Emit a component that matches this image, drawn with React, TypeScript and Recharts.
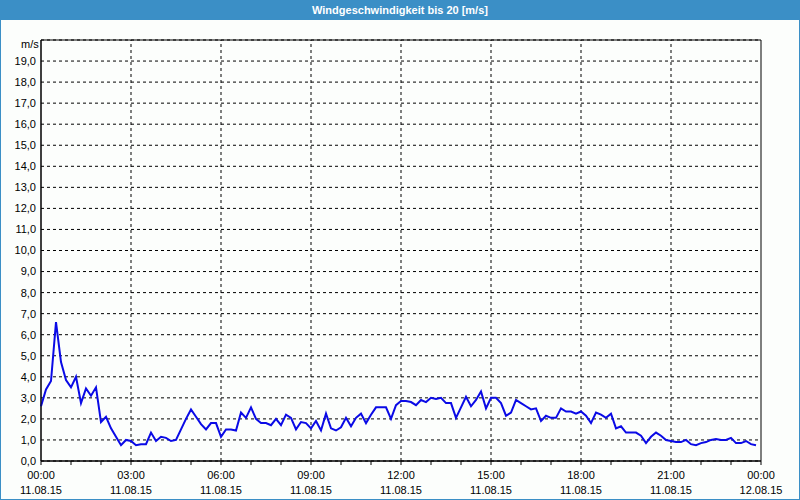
import React from 'react';
import {
    LineChart,
    Line,
    XAxis,
    YAxis,
    CartesianGrid,
    ReferenceLine,
    ReferenceArea,
} from 'recharts';

// Messwerte Windgeschwindigkeit (m/s), alle 10 Minuten ab 00:00
const stepMinutes = 10;
const windSpeed = [
    2.6, 3.4, 3.8, 6.6, 4.7, 3.85, 3.5, 4.0, 2.75, 3.45,
    3.1, 3.5, 1.85, 2.1, 1.55, 1.15, 0.75, 1.0, 0.95, 0.75,
    0.8, 0.8, 1.35, 0.95, 1.15, 1.1, 0.95, 1.0, 1.5, 2.0,
    2.45, 2.1, 1.75, 1.5, 1.8, 1.8, 1.15, 1.5, 1.5, 1.45,
    2.3, 2.05, 2.55, 2.0, 1.8, 1.8, 1.7, 2.0, 1.7, 2.2,
    2.05, 1.5, 1.85, 1.8, 1.55, 1.9, 1.45, 2.25, 1.55, 1.45,
    1.6, 2.05, 1.65, 2.05, 2.25, 1.8, 2.2, 2.55, 2.55, 2.55,
    2.0, 2.65, 2.85, 2.85, 2.8, 2.65, 2.9, 2.8, 3.0, 2.95,
    3.0, 2.75, 2.75, 2.05, 2.55, 3.05, 2.6, 2.9, 3.3, 2.5,
    3.0, 3.0, 2.75, 2.15, 2.3, 2.9, 2.75, 2.6, 2.45, 2.5,
    1.9, 2.15, 2.05, 2.05, 2.5, 2.35, 2.35, 2.25, 2.35, 2.15,
    1.8, 2.3, 2.2, 2.05, 2.25, 1.55, 1.65, 1.35, 1.35, 1.35,
    1.2, 0.85, 1.15, 1.35, 1.2, 1.0, 0.95, 0.9, 0.9, 1.0,
    0.8, 0.75, 0.85, 0.9, 1.0, 1.05, 1.0, 1.0, 1.1, 0.85,
    0.85, 0.95, 0.8, 0.75,
];

// Achsen
const hourTicks = [
    0, 60, 120, 180, 240, 300, 360, 420, 480, 540, 600, 660, 720,
    780, 840, 900, 960, 1020, 1080, 1140, 1200, 1260, 1320, 1380, 1440,
];
const gridMinutes = [180, 360, 540, 720, 900, 1080, 1260];
const timeLabels = ['00:00', '03:00', '06:00', '09:00', '12:00', '15:00', '18:00', '21:00', '00:00'];
const dateLabels = ['11.08.15', '11.08.15', '11.08.15', '11.08.15', '11.08.15', '11.08.15', '11.08.15', '11.08.15', '12.08.15'];
const yTicks = [0, 1, 2, 3, 4, 5, 6, 7, 8, 9, 10, 11, 12, 13, 14, 15, 16, 17, 18, 19];

const data = windSpeed.map((v, i) => ({ t: i * stepMinutes, v }));

const font = '"Liberation Sans", Arial, sans-serif';
const blue = '#3b8fc6';
const axisY = 461;

const TimeTick = (props: any) => {
    const { x, payload } = props;
    const m = payload.value;
    const idx = m % 180 === 0 ? m / 180 : -1;
    return (
        <g>
            <line x1={x} y1={axisY} x2={x} y2={axisY + 4} stroke="#000" />
            {idx >= 0 && (
                <>
                    <text x={x} y={axisY + 18} textAnchor="middle" fontSize={11} fontFamily={font} fill="#000">
                        {timeLabels[idx]}
                    </text>
                    <text x={x} y={axisY + 33} textAnchor="middle" fontSize={11} fontFamily={font} fill="#000">
                        {dateLabels[idx]}
                    </text>
                </>
            )}
        </g>
    );
};

export default function App() {
    return (
        <div style={{ position: 'absolute', left: 0, top: 0, width: 800, height: 500, background: '#fcfefc', fontFamily: font }}>
            <div style={{ position: 'absolute', left: 0, top: 0, width: 800, height: 500, boxSizing: 'border-box', border: `1px solid ${blue}` }} />
            <div
                style={{
                    position: 'absolute', left: 0, top: 0, width: 800, height: 20, background: blue,
                    color: '#fff', fontWeight: 'bold', fontSize: 11, lineHeight: '20px', textAlign: 'center',
                }}
            >
                Windgeschwindigkeit bis 20 [m/s]
            </div>
            <div style={{ position: 'absolute', left: 21, top: 38, fontSize: 11, color: '#000' }}>m/s</div>
            <div style={{ position: 'absolute', left: 0, top: 0 }}>
                <LineChart width={800} height={500} data={data} margin={{ top: 40, right: 39, left: 0, bottom: 0 }}>
                    <CartesianGrid vertical={false} stroke="#000" strokeDasharray="3 3" />
                    {gridMinutes.map((m) => (
                        <ReferenceLine key={m} x={m} stroke="#000" strokeDasharray="3 3" />
                    ))}
                    <ReferenceArea x1={0} x2={1440} y1={0} y2={20} fill="none" stroke="#000" strokeOpacity={1} />
                    <XAxis
                        dataKey="t"
                        type="number"
                        domain={[0, 1440]}
                        ticks={hourTicks}
                        interval={0}
                        height={39}
                        axisLine={{ stroke: '#000' }}
                        tickLine={false}
                        tick={<TimeTick />}
                    />
                    <YAxis
                        type="number"
                        domain={[0, 20]}
                        ticks={yTicks}
                        interval={0}
                        width={41}
                        axisLine={{ stroke: '#000' }}
                        tickLine={false}
                        tickSize={3}
                        tick={{ fill: '#000', fontSize: 11, fontFamily: font }}
                        tickFormatter={(v: number) => v.toFixed(1).replace('.', ',')}
                    />
                    <Line
                        type="linear"
                        dataKey="v"
                        stroke="#0a0ae6"
                        strokeWidth={2}
                        dot={false}
                        isAnimationActive={false}
                    />
                </LineChart>
            </div>
        </div>
    );
}
